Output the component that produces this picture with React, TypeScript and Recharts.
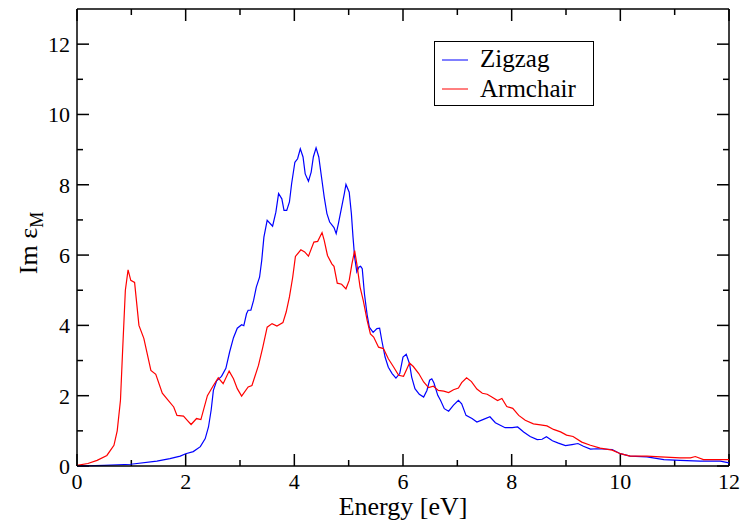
import React from 'react';
import { LineChart, Line, XAxis, YAxis, Legend, ReferenceLine } from 'recharts';

// Energy [eV] and Im eps_M values
const zigzagEnergy = [0, 0.5, 0.99, 1.47, 1.71, 1.9, 2.0, 2.14, 2.27, 2.36, 2.42, 2.47, 2.51, 2.57, 2.66, 2.74, 2.81, 2.88, 2.95, 3.03, 3.07, 3.12, 3.15, 3.2, 3.25, 3.3, 3.36, 3.4, 3.44, 3.5, 3.6, 3.66, 3.71, 3.77, 3.81, 3.86, 3.91, 3.95, 4.01, 4.06, 4.11, 4.16, 4.2, 4.26, 4.31, 4.35, 4.4, 4.45, 4.5, 4.55, 4.6, 4.65, 4.73, 4.77, 4.81, 4.87, 4.92, 4.95, 5.01, 5.05, 5.08, 5.11, 5.15, 5.19, 5.22, 5.25, 5.29, 5.34, 5.38, 5.45, 5.52, 5.57, 5.61, 5.67, 5.73, 5.8, 5.87, 5.94, 6.0, 6.06, 6.12, 6.16, 6.22, 6.3, 6.38, 6.44, 6.49, 6.53, 6.57, 6.64, 6.69, 6.76, 6.84, 6.93, 7.02, 7.08, 7.16, 7.27, 7.36, 7.47, 7.6, 7.7, 7.79, 7.88, 8.01, 8.11, 8.22, 8.34, 8.47, 8.56, 8.64, 8.75, 8.86, 8.99, 9.11, 9.22, 9.32, 9.45, 9.57, 9.85, 10.0, 10.18, 10.49, 10.8, 11.1, 11.47, 11.84, 12.0];
const zigzagValues = [0, 0.02, 0.05, 0.14, 0.21, 0.28, 0.35, 0.41, 0.55, 0.78, 1.11, 1.6, 2.15, 2.42, 2.55, 2.78, 3.25, 3.65, 3.92, 4.02, 3.99, 4.33, 4.43, 4.43, 4.71, 5.09, 5.37, 5.85, 6.51, 6.99, 6.82, 7.22, 7.75, 7.6, 7.27, 7.27, 7.51, 8.03, 8.64, 8.74, 9.02, 8.79, 8.31, 8.1, 8.36, 8.79, 9.05, 8.79, 8.22, 7.65, 7.18, 6.94, 6.78, 6.61, 6.89, 7.36, 7.75, 8.01, 7.79, 7.18, 6.51, 5.94, 5.52, 5.66, 5.68, 5.61, 4.9, 4.3, 3.95, 3.8, 3.91, 3.92, 3.57, 3.1, 2.81, 2.63, 2.5, 2.63, 3.1, 3.18, 2.91, 2.53, 2.2, 2.04, 1.96, 2.15, 2.44, 2.48, 2.36, 2.01, 1.87, 1.63, 1.56, 1.73, 1.87, 1.77, 1.44, 1.35, 1.25, 1.32, 1.4, 1.23, 1.16, 1.09, 1.09, 1.11, 0.97, 0.84, 0.75, 0.76, 0.83, 0.72, 0.65, 0.58, 0.61, 0.64, 0.56, 0.48, 0.49, 0.47, 0.35, 0.28, 0.26, 0.18, 0.16, 0.14, 0.14, 0.09];

const armchairEnergy = [0, 0.2, 0.37, 0.55, 0.68, 0.74, 0.8, 0.84, 0.89, 0.94, 0.99, 1.06, 1.14, 1.23, 1.36, 1.45, 1.57, 1.66, 1.78, 1.84, 1.96, 2.03, 2.1, 2.2, 2.28, 2.4, 2.51, 2.6, 2.69, 2.8, 2.88, 2.95, 3.03, 3.15, 3.22, 3.34, 3.42, 3.5, 3.59, 3.68, 3.79, 3.85, 3.91, 3.97, 4.02, 4.12, 4.19, 4.26, 4.36, 4.43, 4.51, 4.55, 4.61, 4.69, 4.73, 4.79, 4.87, 4.95, 5.01, 5.06, 5.11, 5.15, 5.21, 5.27, 5.34, 5.4, 5.46, 5.55, 5.64, 5.73, 5.83, 5.92, 6.01, 6.12, 6.19, 6.29, 6.38, 6.47, 6.56, 6.65, 6.75, 6.84, 6.93, 7.02, 7.08, 7.17, 7.26, 7.36, 7.46, 7.55, 7.65, 7.74, 7.82, 7.91, 8.02, 8.13, 8.25, 8.4, 8.53, 8.65, 8.77, 8.9, 9.01, 9.13, 9.29, 9.45, 9.63, 9.85, 10.0, 10.18, 10.49, 10.74, 11.1, 11.29, 11.38, 11.53, 12.0];
const armchairValues = [0.02, 0.07, 0.16, 0.3, 0.59, 1.0, 1.87, 3.3, 5.0, 5.58, 5.28, 5.22, 4.0, 3.63, 2.72, 2.61, 2.07, 1.9, 1.68, 1.44, 1.42, 1.3, 1.18, 1.35, 1.32, 2.0, 2.29, 2.51, 2.34, 2.7, 2.48, 2.2, 1.99, 2.25, 2.29, 2.86, 3.38, 3.95, 4.05, 3.98, 4.08, 4.38, 4.81, 5.37, 5.96, 6.15, 6.09, 5.97, 6.37, 6.39, 6.64, 6.42, 5.99, 5.75, 5.68, 5.2, 5.17, 5.04, 5.28, 5.75, 6.13, 5.75, 5.09, 4.7, 4.14, 3.76, 3.67, 3.38, 3.34, 3.05, 2.81, 2.58, 2.55, 2.93, 2.83, 2.63, 2.39, 2.23, 2.27, 2.15, 2.13, 2.09, 2.17, 2.22, 2.37, 2.51, 2.4, 2.19, 2.07, 2.04, 1.95, 1.86, 1.92, 1.69, 1.64, 1.44, 1.3, 1.2, 1.17, 1.14, 1.04, 0.97, 0.88, 0.84, 0.68, 0.59, 0.51, 0.45, 0.35, 0.28, 0.28, 0.26, 0.23, 0.23, 0.27, 0.18, 0.18];

const xTicks = [0, 1, 2, 3, 4, 5, 6, 7, 8, 9, 10, 11, 12];
const yTicks = [0, 1, 2, 3, 4, 5, 6, 7, 8, 9, 10, 11, 12];
const xDomain = [0, 12];
const yDomain = [0, 13];
const seriesNames = ['Zigzag', 'Armchair'];
const seriesColors = ['#0000ff', '#ff0000'];

const zigzagData = zigzagEnergy.map((x, i) => ({ x, y: zigzagValues[i] }));
const armchairData = armchairEnergy.map((x, i) => ({ x, y: armchairValues[i] }));

const FONT = '"Liberation Serif", "DejaVu Serif", serif';
const CHART_W = 742;
const CHART_H = 521;
const MARGIN = { top: 9, right: 13, bottom: 0, left: 17 };
const Y_AXIS_W = 60;
const X_AXIS_H = 55;
const PLOT_W = CHART_W - MARGIN.left - MARGIN.right - Y_AXIS_W;
const PLOT_H = CHART_H - MARGIN.top - MARGIN.bottom - X_AXIS_H;
// tick lengths in pixels converted to data units along each axis
const tickLenX = (px: number) => (px * (xDomain[1] - xDomain[0])) / PLOT_W;
const tickLenY = (px: number) => (px * (yDomain[1] - yDomain[0])) / PLOT_H;
const tickPx = (v: number) => (v % 2 === 0 ? 12 : 6);

const BottomLabel = (props: any) => {
  const { x, y, payload } = props;
  const v = payload.value;
  if (v % 2 !== 0) return <g />;
  return (
    <text x={x} y={y + 23} textAnchor="middle" fontSize={22} fontFamily={FONT} fill="#000">
      {v}
    </text>
  );
};

const LeftLabel = (props: any) => {
  const { x, y, payload } = props;
  const v = payload.value;
  if (v % 2 !== 0) return <g />;
  return (
    <text x={x - 7} y={y + 8} textAnchor="end" fontSize={22} fontFamily={FONT} fill="#000">
      {v}
    </text>
  );
};

const LegendBox = () => (
  <svg width={161} height={66} style={{ display: 'block' }}>
    <rect x={0.5} y={0.5} width={159} height={64} fill="#fff" stroke="#000" strokeWidth={1} />
    {seriesNames.map((name, i) => (
      <g key={name}>
        <line x1={8} x2={34} y1={19 + i * 29} y2={19 + i * 29} stroke={seriesColors[i]} strokeWidth={1} />
        <text x={46} y={26 + i * 30} fontSize={25} fontFamily={FONT} fill="#000">
          {name}
        </text>
      </g>
    ))}
  </svg>
);

const YLabel = () => (
  <text transform="translate(37, 243) rotate(-90)" textAnchor="middle" fontSize={26} fontFamily={FONT} fill="#000">
    Im ε
    <tspan fontSize={18} dy={6}>M</tspan>
  </text>
);

const TICK_STYLE = { stroke: '#000', strokeWidth: 1.5, ifOverflow: 'visible' as const };

export default function App() {
  const xTickLines = xTicks.flatMap((v) => [
    <ReferenceLine key={`xb${v}`} {...TICK_STYLE} segment={[{ x: v, y: yDomain[0] }, { x: v, y: yDomain[0] + tickLenY(tickPx(v)) }]} />,
    <ReferenceLine key={`xt${v}`} {...TICK_STYLE} segment={[{ x: v, y: yDomain[1] }, { x: v, y: yDomain[1] - tickLenY(tickPx(v)) }]} />,
  ]);
  const yTickLines = yTicks.flatMap((v) => [
    <ReferenceLine key={`yl${v}`} {...TICK_STYLE} segment={[{ x: xDomain[0], y: v }, { x: xDomain[0] + tickLenX(tickPx(v)), y: v }]} />,
    <ReferenceLine key={`yr${v}`} {...TICK_STYLE} segment={[{ x: xDomain[1], y: v }, { x: xDomain[1] - tickLenX(tickPx(v)), y: v }]} />,
  ]);
  return (
    <div style={{ position: 'absolute', left: 0, top: 0, width: CHART_W, height: CHART_H, background: '#fff' }}>
      <LineChart width={CHART_W} height={CHART_H} margin={MARGIN}>
        <XAxis
          dataKey="x"
          type="number"
          domain={xDomain}
          ticks={xTicks}
          interval={0}
          height={X_AXIS_H}
          tickSize={0}
          tickMargin={0}
          tickLine={false}
          axisLine={{ stroke: '#000', strokeWidth: 1.5 }}
          tick={<BottomLabel />}
          label={{ value: 'Energy [eV]', position: 'insideBottom', offset: 6, fontSize: 26, fontFamily: FONT, fill: '#000' }}
        />
        <YAxis
          type="number"
          domain={yDomain}
          ticks={yTicks}
          interval={0}
          width={Y_AXIS_W}
          tickSize={0}
          tickMargin={0}
          tickLine={false}
          axisLine={{ stroke: '#000', strokeWidth: 1.5 }}
          tick={<LeftLabel />}
          label={<YLabel />}
        />
        <ReferenceLine y={yDomain[1]} stroke="#000" strokeWidth={1.5} ifOverflow="visible" />
        <ReferenceLine x={xDomain[1]} stroke="#000" strokeWidth={1.5} ifOverflow="visible" />
        {xTickLines}
        {yTickLines}
        <Legend
          layout="vertical"
          align="center"
          verticalAlign="middle"
          content={<LegendBox />}
          wrapperStyle={{ position: 'absolute', left: 434, top: 41, width: 161, height: 66 }}
        />
        <Line data={zigzagData} dataKey="y" name={seriesNames[0]} type="linear" stroke={seriesColors[0]} strokeWidth={1.2} dot={false} isAnimationActive={false} />
        <Line data={armchairData} dataKey="y" name={seriesNames[1]} type="linear" stroke={seriesColors[1]} strokeWidth={1.2} dot={false} isAnimationActive={false} />
      </LineChart>
    </div>
  );
}
